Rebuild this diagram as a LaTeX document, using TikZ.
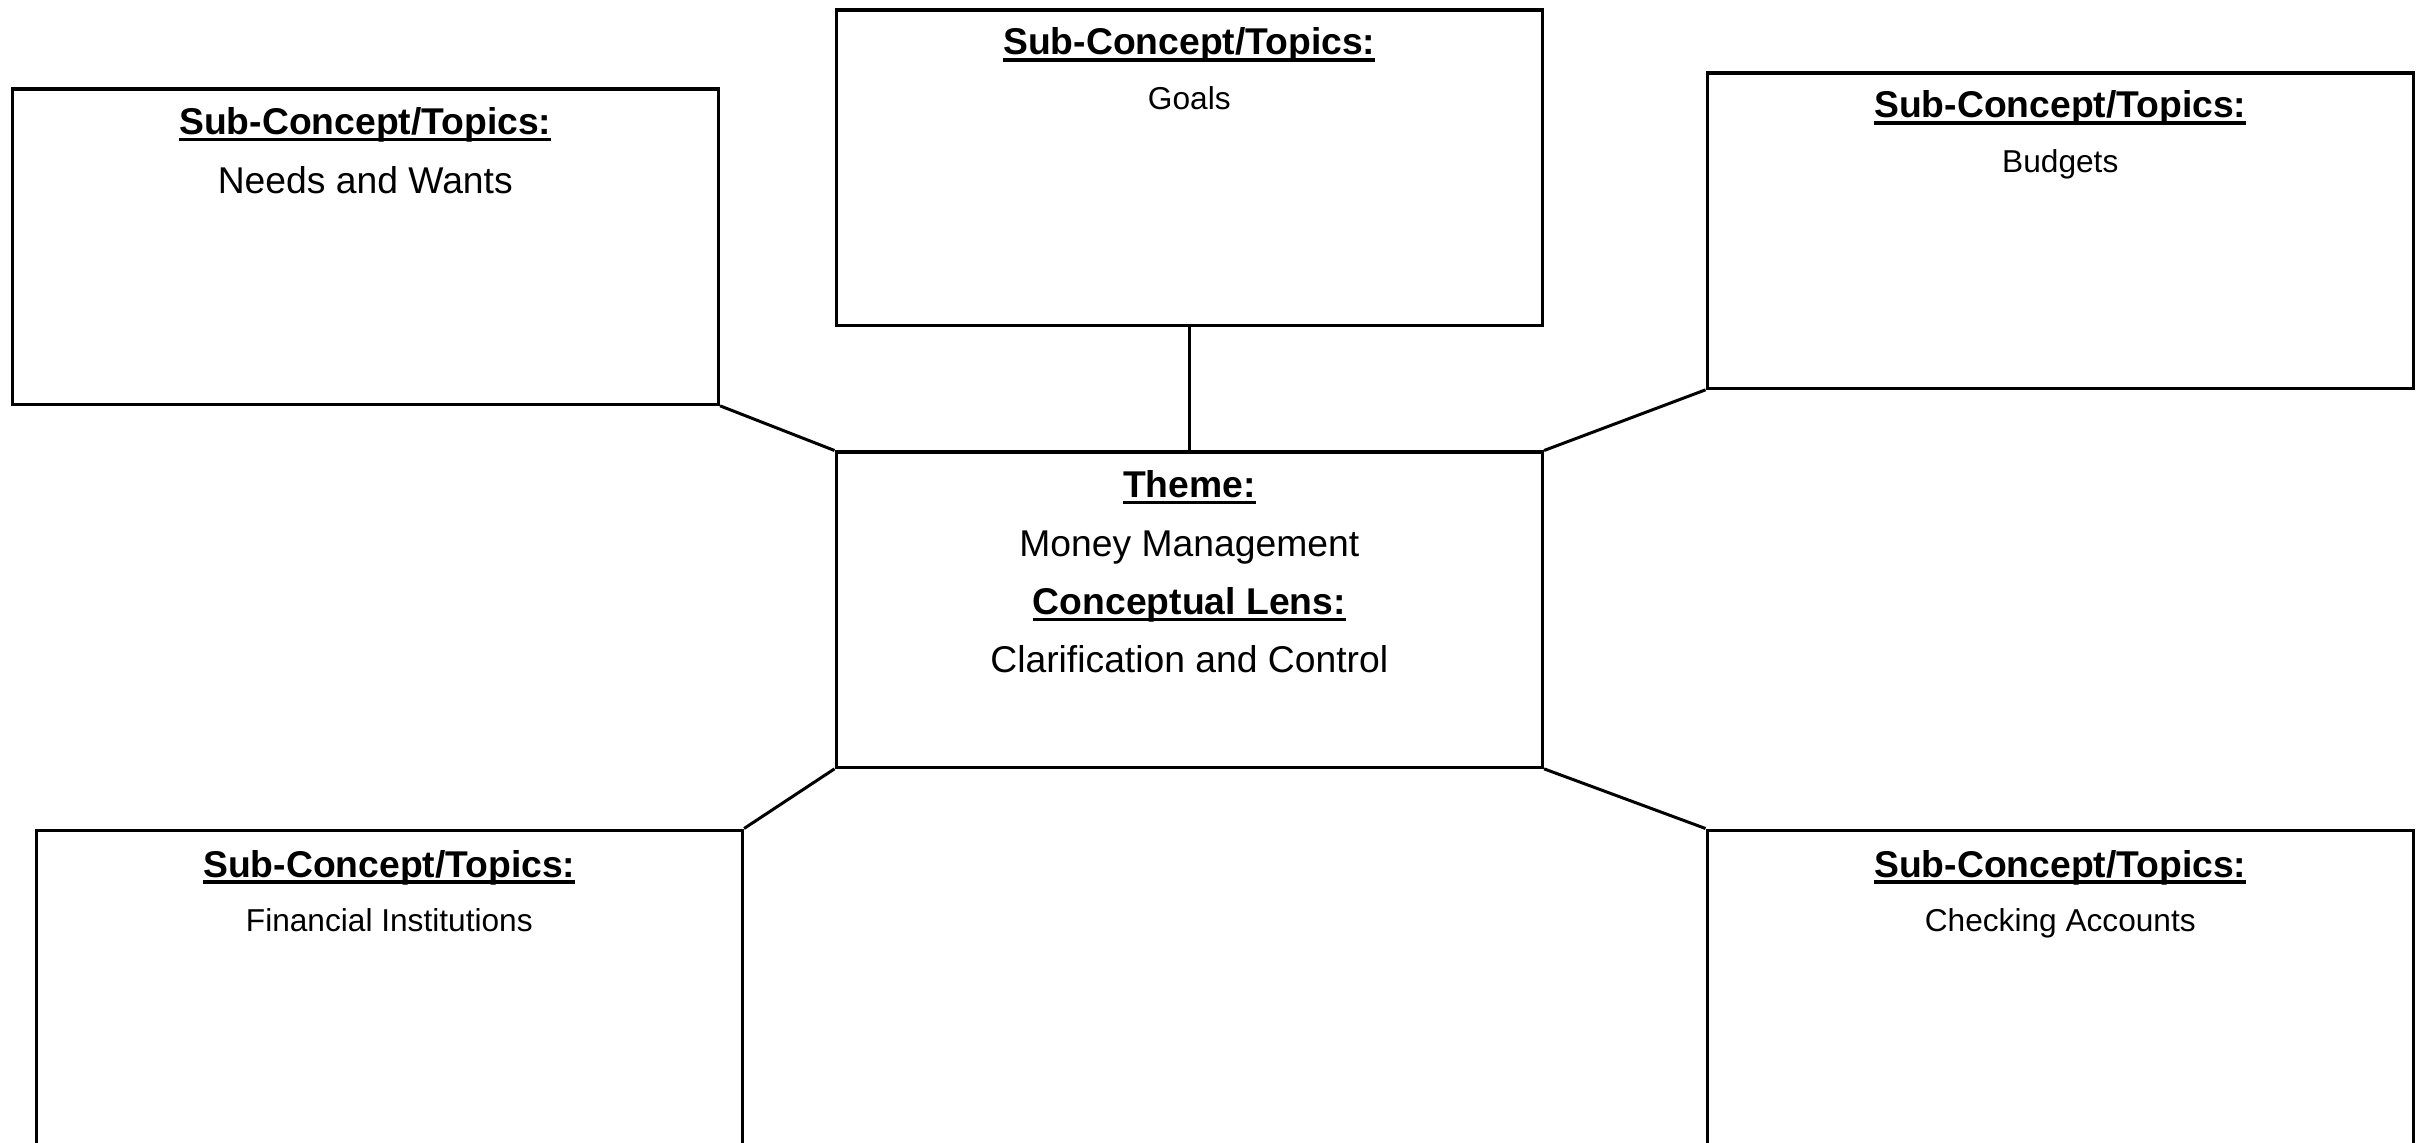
\documentclass[tikz,border=0pt]{standalone}
\usepackage{fontspec}
\setmainfont{Liberation Sans}
\usetikzlibrary{calc}

% underlined heading text
\newcommand\headul[1]{\setbox0=\hbox{#1}\rlap{\vrule width\wd0 height -0.95pt depth 1.85pt}\box0}

\tikzset{
  conceptbox/.style={draw, line width=0.9pt, rectangle, inner sep=0pt,
    minimum width=7.06cm, minimum height=3.15cm, anchor=north west},
  link/.style={line width=0.85pt},
  bigtext/.style={anchor=base, inner sep=0pt, font=\fontsize{10.6}{12}\selectfont},
  bighead/.style={anchor=base, inner sep=0pt, font=\fontsize{10.6}{12}\selectfont\bfseries},
  smalltext/.style={anchor=base, inner sep=0pt, font=\fontsize{9}{11}\selectfont},
}

\begin{document}
\begin{tikzpicture}[x=0.01cm, y=-0.01cm]
  \fill[white] (0,0) rectangle (2424,1143);
  \clip (0,0) rectangle (2424,1143);

  % boxes
  \node[conceptbox] (A) at (10.5,87.5) {};
  \node[conceptbox] (B) at (834.5,8.5) {};
  \node[conceptbox] (C) at (1705.5,71.5) {};
  \node[conceptbox] (D) at (834.5,450.5) {};
  \node[conceptbox] (E) at (34.5,828.5) {};
  \node[conceptbox] (F) at (1705.5,828.5) {};

  % connectors
  \draw[link] (A.south east) -- (D.north west);
  \draw[link] (B.south) -- (D.north);
  \draw[link] (C.south west) -- (D.north east);
  \draw[link] (D.south west) -- (E.north east);
  \draw[link] (D.south east) -- (F.north west);

  % texts
  \node[bighead] (Ah) at ($(A.north)+(0,47)$) {\headul{Sub-Concept/Topics:}};
  \node[bigtext] (At) at ($(A.north)+(0,106)$) {Needs and Wants};

  \node[bighead] (Bh) at ($(B.north)+(0,46.5)$) {\headul{Sub-Concept/Topics:}};
  \node[smalltext] (Bt) at ($(B.north)+(0,101)$) {Goals};

  \node[bighead] (Ch) at ($(C.north)+(0,46.5)$) {\headul{Sub-Concept/Topics:}};
  \node[smalltext] (Ct) at ($(C.north)+(0,101)$) {Budgets};

  \node[bighead] (Dh1) at ($(D.north)+(0,47)$) {\headul{Theme:}};
  \node[bigtext] (Dt1) at ($(D.north)+(0,106)$) {Money Management};
  \node[bighead] (Dh2) at ($(D.north)+(0,164)$) {\headul{Conceptual Lens:}};
  \node[bigtext] (Dt2) at ($(D.north)+(0,222)$) {Clarification and Control};

  \node[bighead] (Eh) at ($(E.north)+(0,48.5)$) {\headul{Sub-Concept/Topics:}};
  \node[smalltext] (Et) at ($(E.north)+(0,103)$) {Financial Institutions};

  \node[bighead] (Fh) at ($(F.north)+(0,48.5)$) {\headul{Sub-Concept/Topics:}};
  \node[smalltext] (Ft) at ($(F.north)+(0,103)$) {Checking Accounts};
\end{tikzpicture}
\end{document}
